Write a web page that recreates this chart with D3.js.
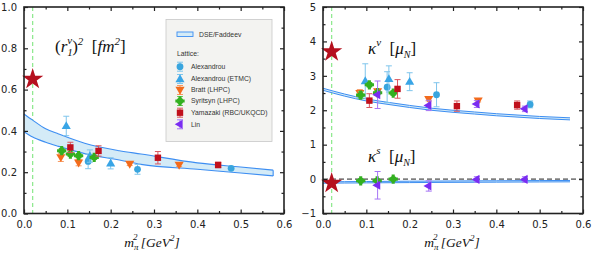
<!DOCTYPE html>
<html><head><meta charset="utf-8">
<script src="https://cdn.jsdelivr.net/npm/d3@7"></script>
<style>body{margin:0;background:#fff}svg{display:block}</style>
</head><body><svg id="c" width="592" height="253"></svg>
<script>
// ---------- data ----------
const xTicks = [0, 0.1, 0.2, 0.3, 0.4, 0.5, 0.6];
const r2Ticks = [0, 0.2, 0.4, 0.6, 0.8, 1.0];
const kTicks = [-1, 0, 1, 2, 3, 4, 5];
const physX = 0.02;
const starR2 = 0.65, starKv = 3.7, starKs = -0.12;

// DSE/Faddeev band for r1^2
const bandX = [0, 0.02, 0.05, 0.08, 0.14, 0.22, 0.27, 0.4, 0.5, 0.575];
const bandR2Hi = [0.482, 0.452, 0.41, 0.385, 0.34, 0.304, 0.288, 0.245, 0.225, 0.21];
const bandR2Lo = [0.396, 0.37, 0.345, 0.325, 0.29, 0.259, 0.238, 0.214, 0.196, 0.182];
// kappa^v and kappa^s bands
const kBandX = [0, 0.05, 0.1, 0.15, 0.2, 0.25, 0.3, 0.35, 0.4, 0.45, 0.5, 0.57];
const kvHi = [2.64, 2.47, 2.33, 2.23, 2.14, 2.06, 2.0, 1.95, 1.9, 1.86, 1.82, 1.78];
const kvLo = [2.58, 2.41, 2.27, 2.17, 2.08, 2.0, 1.94, 1.89, 1.84, 1.8, 1.76, 1.72];
const ksHi = [-0.08, -0.075, -0.07, -0.066, -0.062, -0.058, -0.055, -0.052, -0.049, -0.046, -0.043, -0.04];
const ksLo = [-0.12, -0.115, -0.11, -0.106, -0.102, -0.098, -0.095, -0.092, -0.089, -0.086, -0.083, -0.08];

// Lattice: r1^2
const alexX = [0.148, 0.262, 0.478], alexR2 = [0.252, 0.214, 0.219], alexR2Err = [0.035, 0.024, 0.007];
const etmcX = [0.0975, 0.152, 0.2], etmcR2 = [0.424, 0.278, 0.243], etmcR2Err = [0.047, 0.03, 0.027];
const brattX = [0.085, 0.126, 0.244, 0.358], brattR2 = [0.272, 0.246, 0.24, 0.235], brattR2Err = [0.02, 0.015, 0.008, 0.008];
const syrX = [0.087, 0.107, 0.126, 0.162], syrR2 = [0.304, 0.288, 0.28, 0.272], syrR2Err = [0.01, 0.01, 0.01, 0.01];
const yamX = [0.107, 0.172, 0.309, 0.448], yamR2 = [0.32, 0.303, 0.27, 0.235], yamR2Err = [0.025, 0.025, 0.03, 0.013];

// Lattice: kappa^v
const alexKv = [2.67, 2.45, 2.17], alexKvErr = [0.45, 0.35, 0.1];
const etmcKv = [2.85, 2.91, 2.83], etmcKvErr = [0.5, 0.38, 0.26];
const brattKv = [2.5, 2.55, 2.32, 2.28], brattKvErr = [0.1, 0.06, 0.05, 0.04];
const syrKv = [2.44, 2.74, 2.51, 2.5], syrKvErr = [0.1, 0.06, 0.06, 0.06];
const yamKv = [2.28, 2.62, 2.12, 2.15], yamKvErr = [0.2, 0.27, 0.15, 0.12];
const linX = [0.126, 0.244, 0.355, 0.466], linKv = [2.45, 2.14, 2.18, 2.04], linKvErr = [0.4, 0.15, 0.1, 0.08];
// Lattice: kappa^s
const syrKsX = [0.087, 0.125, 0.162], syrKs = [-0.05, -0.05, 0.0], syrKsErr = [0.03, 0.03, 0.03];
const linKs = [-0.18, -0.2, -0.01, -0.01], linKsErr = [0.4, 0.15, 0.08, 0.08];

const legendNames = ["Alexandrou", "Alexandrou (ETMC)", "Bratt (LHPC)", "Syritsyn (LHPC)", "Yamazaki (RBC/UKQCD)", "Lin"];

// ---------- styles ----------
const C = {
  alex: {c: "#39a5de", e: "#7fc5ec", shape: "circle"},
  etmc: {c: "#39a5e6", e: "#7fc5ec", shape: "up"},
  bratt: {c: "#f36b1c", e: "#f79a62", shape: "down"},
  syr: {c: "#33b020", e: "#6fcc60", shape: "syr"},
  yam: {c: "#c0101c", e: "#d9565e", shape: "square"},
  lin: {c: "#7a2cf2", e: "#a675f5", shape: "left"}
};
const svg = d3.select("#c");
svg.append("rect").attr("width", 592).attr("height", 253).attr("fill", "#fff");

function marker(g, x, y, st) {
  const s = st.shape;
  if (s === "circle") g.append("circle").attr("cx", x).attr("cy", y).attr("r", 3.4).attr("fill", st.c);
  else if (s === "square") g.append("rect").attr("x", x - 3.2).attr("y", y - 3.2).attr("width", 6.4).attr("height", 6.4).attr("fill", st.c);
  else if (s === "syr") {
    g.append("circle").attr("cx", x).attr("cy", y).attr("r", 3.2).attr("fill", st.c);
    g.append("path").attr("d", d3.symbol(d3.symbolCross, 48)()).attr("transform", `translate(${x},${y})`).attr("fill", st.c);
  } else {
    const rot = s === "up" ? 0 : s === "down" ? 180 : -90;
    g.append("path").attr("d", d3.symbol(d3.symbolTriangle, 36)()).attr("transform", `translate(${x},${y + (s==="up"?0.5:s==="down"?-0.5:0)}) rotate(${rot})`).attr("fill", st.c);
  }
}
function errbar(g, x, y0, y1, col) {
  g.append("line").attr("x1", x).attr("x2", x).attr("y1", y0).attr("y2", y1).attr("stroke", col).attr("stroke-width", 1);
  [y0, y1].forEach(yy => g.append("line").attr("x1", x - 3).attr("x2", x + 3).attr("y1", yy).attr("y2", yy).attr("stroke", col).attr("stroke-width", 1));
}
function series(g, xs, ys, errs, st, X, Y) {
  xs.forEach((xv, i) => {
    if (errs[i] > 0) errbar(g, X(xv), Y(ys[i] - errs[i]), Y(ys[i] + errs[i]), st.e);
  });
  xs.forEach((xv, i) => marker(g, X(xv), Y(ys[i]), st));
}

function frame(X, Y, yMajor, yMinorStep, yFmt) {
  const g = svg.append("g");
  const xr = X.range(), yr = Y.range();
  const xMinor = d3.range(0.05, 0.6, 0.1);
  const yd = Y.domain();
  const yMinor = d3.range(yd[0] + yMinorStep, yd[1], yMinorStep * 2).map(v => +v.toFixed(3));
  const axes = [
    [d3.axisBottom(X).tickValues(xTicks).tickSize(-4).tickPadding(7).tickFormat(d3.format(".1f")), `translate(0,${yr[0]})`],
    [d3.axisBottom(X).tickValues(xMinor).tickSize(-2.5).tickFormat(""), `translate(0,${yr[0]})`],
    [d3.axisTop(X).tickValues(xTicks).tickSize(-4).tickFormat(""), `translate(0,${yr[1]})`],
    [d3.axisTop(X).tickValues(xMinor).tickSize(-2.5).tickFormat(""), `translate(0,${yr[1]})`],
    [d3.axisLeft(Y).tickValues(yMajor).tickSize(-4).tickPadding(7).tickFormat(yFmt), `translate(${xr[0]},0)`],
    [d3.axisLeft(Y).tickValues(yMinor).tickSize(-2.5).tickFormat(""), `translate(${xr[0]},0)`],
    [d3.axisRight(Y).tickValues(yMajor).tickSize(-4).tickFormat(""), `translate(${xr[1]},0)`],
    [d3.axisRight(Y).tickValues(yMinor).tickSize(-2.5).tickFormat(""), `translate(${xr[1]},0)`]
  ];
  axes.forEach(([ax, tr]) => {
    const a = g.append("g").attr("transform", tr).call(ax);
    a.select(".domain").remove();
    a.selectAll(".tick line").attr("stroke", "#222").attr("stroke-width", 1.2);
    a.selectAll("text").attr("font-family", "'DejaVu Sans', sans-serif").attr("font-size", 10).attr("fill", "#222");
  });
  g.append("rect").attr("x", xr[0]).attr("y", yr[1]).attr("width", xr[1] - xr[0]).attr("height", yr[0] - yr[1])
    .attr("fill", "none").attr("stroke", "#222").attr("stroke-width", 1.6);
  return g;
}

function star(g, x, y) {
  g.append("path").attr("d", d3.symbol(d3.symbolStar, 140)()).attr("transform", `translate(${x},${y})`).attr("fill", "#b5101e");
}
function mathText(x, y, size, parts, anchor) {
  const t = svg.append("text").attr("x", x).attr("y", y).attr("font-family", "'Liberation Serif', 'DejaVu Serif', serif")
    .attr("font-style", "italic").attr("font-size", size).attr("fill", "#111").attr("text-anchor", anchor || "start");
  parts.forEach(p => {
    const ts = t.append("tspan").text(p.t);
    if (p.dy) ts.attr("dy", p.dy);
    if (p.dx) ts.attr("dx", p.dx);
    if (p.s) ts.attr("font-size", p.s);
    if (p.up) ts.attr("font-style", "normal");
  });
  return t;
}
const SP = "\u00a0\u00a0";
function xLabel(cx) {
  mathText(cx, 247, 13.5, [
    {t: "m"}, {t: "π", s: 9, dy: 3}, {t: "2", s: 9, dx: -5.5, dy: -10}, {t: "\u00a0[GeV", dy: 7}, {t: "2", s: 9, dy: -6}, {t: "]", dy: 6}
  ], "middle");
}

// ---------- left panel ----------
const XL = d3.scaleLinear().domain([0, 0.6]).range([24, 284]);
const YL = d3.scaleLinear().domain([0, 1]).range([213.5, 7]);
const gL = svg.append("g");
gL.append("line").attr("x1", XL(physX)).attr("x2", XL(physX)).attr("y1", YL(1)).attr("y2", YL(0))
  .attr("stroke", "#8ae88a").attr("stroke-width", 1.2).attr("stroke-dasharray", "4,3");
const bandL = bandX.map((x, i) => ({x, hi: bandR2Hi[i], lo: bandR2Lo[i]}));
gL.append("path").datum(bandL).attr("d", d3.area().x(d => XL(d.x)).y0(d => YL(d.lo)).y1(d => YL(d.hi)).curve(d3.curveMonotoneX))
  .attr("fill", "#d4ebf7").attr("stroke", "none");
["hi", "lo"].forEach(k => gL.append("path").datum(bandL).attr("d", d3.line().x(d => XL(d.x)).y(d => YL(d[k])).curve(d3.curveMonotoneX))
  .attr("fill", "none").attr("stroke", "#3d8ef2").attr("stroke-width", 1.1));
gL.append("line").attr("x1", XL(bandX[bandX.length - 1])).attr("x2", XL(bandX[bandX.length - 1]))
  .attr("y1", YL(bandR2Hi[bandR2Hi.length - 1])).attr("y2", YL(bandR2Lo[bandR2Lo.length - 1])).attr("stroke", "#3d8ef2").attr("stroke-width", 1.1);
series(gL, brattX, brattR2, brattR2Err, C.bratt, XL, YL);
series(gL, alexX, alexR2, alexR2Err, C.alex, XL, YL);
series(gL, etmcX, etmcR2, etmcR2Err, C.etmc, XL, YL);
series(gL, syrX, syrR2, syrR2Err, C.syr, XL, YL);
series(gL, yamX, yamR2, yamR2Err, C.yam, XL, YL);
star(gL, XL(physX), YL(starR2));
frame(XL, YL, r2Ticks, 0.1, d3.format(".1f"));

// legend
const lg = svg.append("g");
lg.append("rect").attr("x", 166).attr("y", 19.5).attr("width", 106).attr("height", 122).attr("fill", "#f3f3f1").attr("stroke", "#c8c8c8").attr("stroke-width", 0.8);
lg.append("rect").attr("x", 177).attr("y", 32).attr("width", 16).attr("height", 4.5).attr("fill", "#d4ebf7").attr("stroke", "#3d8ef2").attr("stroke-width", 0.9);
const lf = "'Liberation Sans', Arial, sans-serif";
lg.append("text").attr("x", 199).attr("y", 36.5).attr("font-family", lf).attr("font-size", 6.8).attr("fill", "#333").text("DSE/Faddeev");
lg.append("text").attr("x", 177).attr("y", 55.5).attr("font-family", lf).attr("font-size", 6.8).attr("fill", "#333").text("Lattice:");
const legStyles = [C.alex, C.etmc, C.bratt, C.syr, C.yam, C.lin];
const legY = [66.7, 79, 90, 101, 112.7, 124.3];
legendNames.forEach((n, i) => {
  errbar(lg, 180, legY[i] - 4.5, legY[i] + 4.5, legStyles[i].e);
  marker(lg, 180, legY[i], legStyles[i]);
  lg.append("text").attr("x", 191).attr("y", legY[i] + 2.4).attr("font-family", lf).attr("font-size", 6.8).attr("fill", "#333").text(n);
});

mathText(55, 52, 17, [
  {t: "(", up: true}, {t: "r"}, {t: "1", s: 11, dy: 4}, {t: "v", s: 11, dx: -5.5, dy: -12}, {t: ")", up: true, dy: 8},
  {t: "2", s: 11, dy: -7}, {t: SP + "[", up: true, dy: 7}, {t: "fm"}, {t: "2", s: 11, dy: -7}, {t: "]", up: true, dy: 7}
]);
xLabel(152);

// ---------- right panel ----------
const XR = d3.scaleLinear().domain([0, 0.6]).range([323, 583]);
const YR = d3.scaleLinear().domain([-1, 5]).range([213.5, 7]);
const gR = svg.append("g");
gR.append("line").attr("x1", XR(physX)).attr("x2", XR(physX)).attr("y1", YR(5)).attr("y2", YR(-1))
  .attr("stroke", "#8ae88a").attr("stroke-width", 1.2).attr("stroke-dasharray", "4,3");
gR.append("line").attr("x1", XR(0)).attr("x2", XR(0.6)).attr("y1", YR(0)).attr("y2", YR(0))
  .attr("stroke", "#222").attr("stroke-width", 1).attr("stroke-dasharray", "5,3");
function kband(hi, lo) {
  const d = kBandX.map((x, i) => ({x, hi: hi[i], lo: lo[i]}));
  gR.append("path").datum(d).attr("d", d3.area().x(p => XR(p.x)).y0(p => YR(p.lo)).y1(p => YR(p.hi)).curve(d3.curveMonotoneX))
    .attr("fill", "#d4ebf7").attr("stroke", "none");
  ["hi", "lo"].forEach(k => gR.append("path").datum(d).attr("d", d3.line().x(p => XR(p.x)).y(p => YR(p[k])).curve(d3.curveMonotoneX))
    .attr("fill", "none").attr("stroke", "#3d8ef2").attr("stroke-width", 1));
}
kband(kvHi, kvLo);
kband(ksHi, ksLo);
series(gR, brattX, brattKv, brattKvErr, C.bratt, XR, YR);
series(gR, alexX, alexKv, alexKvErr, C.alex, XR, YR);
series(gR, etmcX, etmcKv, etmcKvErr, C.etmc, XR, YR);
series(gR, syrX, syrKv, syrKvErr, C.syr, XR, YR);
series(gR, yamX, yamKv, yamKvErr, C.yam, XR, YR);
series(gR, linX, linKv, linKvErr, C.lin, XR, YR);
series(gR, syrKsX, syrKs, syrKsErr, C.syr, XR, YR);
series(gR, linX, linKs, linKsErr, C.lin, XR, YR);
star(gR, XR(physX), YR(starKv));
star(gR, XR(physX), YR(starKs));
frame(XR, YR, kTicks, 0.5, d3.format("d"));

mathText(368, 54, 17, [{t: "κ"}, {t: "v", s: 11, dy: -8}, {t: SP + "[", up: true, dy: 8}, {t: "μ"}, {t: "N", s: 10, dy: 4}, {t: "]", up: true, dy: -4}]);
mathText(368, 162, 17, [{t: "κ"}, {t: "s", s: 11, dy: -8}, {t: SP + "[", up: true, dy: 8}, {t: "μ"}, {t: "N", s: 10, dy: 4}, {t: "]", up: true, dy: -4}]);
xLabel(452);
</script></body></html>
